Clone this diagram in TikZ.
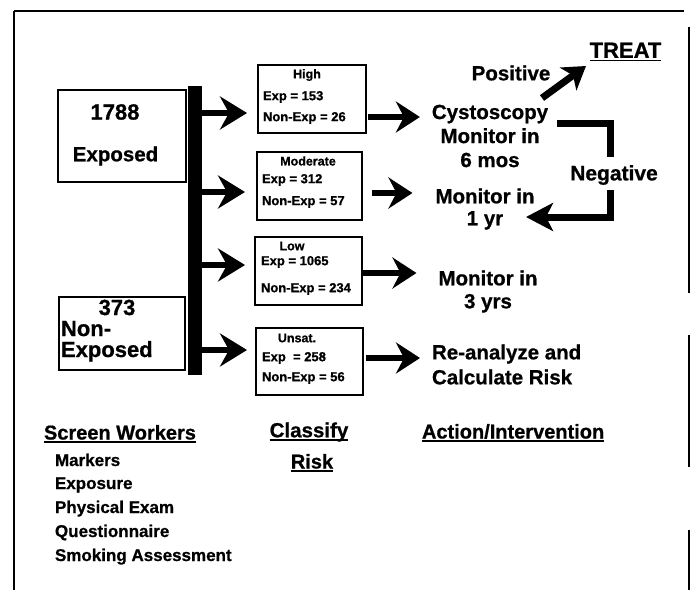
\documentclass[tikz,border=0pt]{standalone}
\usepackage{fontspec}
\setmainfont{Liberation Sans}[BoldFeatures={FakeBold=0.8}]
\usetikzlibrary{arrows.meta}
\newcommand\myul[1]{\setbox0=\hbox{#1}\rlap{\rule[-3.5pt]{\wd0}{1.8pt}}\box0}
\newcommand\fs[2]{\fontsize{#1}{#2}\selectfont}
\begin{document}
\begin{tikzpicture}[x=1pt,y=-1pt,
  every node/.style={inner sep=0pt, outer sep=0pt, font=\bfseries},
  bigbox/.style={draw, line width=2.2pt},
  riskbox/.style={draw, line width=2.2pt, minimum width=106pt, minimum height=67pt},
  hdr/.style={font=\bfseries\fs{12.5}{15}},
  cnt/.style={font=\bfseries\fs{13}{15}, anchor=west},
  big/.style={font=\bfseries\fs{20.5}{24}, align=center},
  item/.style={font=\bfseries\fs{17}{20}, anchor=base west},
  fat/.style={line width=6pt, -{Stealth[length=27pt,width=33pt,inset=9pt]}},
  fatr/.style={line width=6pt, -{Stealth[length=24pt,width=31pt,inset=8pt]}},
  frame/.style={line width=1.6pt}
]
\useasboundingbox (0,0) rectangle (690,590);
% frame
\draw[frame] (14,11) -- (684,11);
\draw[frame] (14,11) -- (14,590);
\draw[line width=1.1pt] (689,27) -- (689,293);
\draw[line width=1.1pt] (689,335) -- (689,467);
\draw[line width=1.1pt] (689,530) -- (689,590);

% left boxes
\node[bigbox, minimum width=128pt, minimum height=92pt] (exp) at (122,136) {};
\node[font=\bfseries\fs{22}{26}] (n1788) at (115,112) {1788};
\node[font=\bfseries\fs{20.5}{24}] (nexp) at (115.5,156) {Exposed};
\node[bigbox, minimum width=126pt, minimum height=73pt] (nonexp) at (122,333.5) {};
\node[font=\bfseries\fs{22}{26}, anchor=base] (n373) at (117,315) {373};
\node[font=\bfseries\fs{22}{26}, anchor=base west] (nnon) at (61,336) {Non-};
\node[font=\bfseries\fs{22}{26}, anchor=base west] (nnonexp) at (61,357) {Exposed};

% bar
\node[fill=black, minimum width=14pt, minimum height=289pt] (bar) at (195,230.5) {};

% risk boxes
\node[riskbox, minimum width=108pt, minimum height=68pt] (high) at (312,99) {};
\node[hdr] (hhigh) at (307,75) {High};
\node[cnt] (hexp) at (263,97) {Exp = 153};
\node[cnt] (hnon) at (263,118) {Non-Exp = 26};

\node[riskbox, minimum width=105pt, minimum height=68pt] (mod) at (309.5,186) {};
\node[hdr] (hmod) at (308,161) {Moderate};
\node[cnt] (mexp) at (262,180) {Exp = 312};
\node[cnt] (mnon) at (262,202) {Non-Exp = 57};

\node[riskbox, minimum width=107pt, minimum height=68pt] (low) at (308.5,271) {};
\node[hdr] (hlow) at (292,246) {Low};
\node[cnt] (lexp) at (261,262) {Exp = 1065};
\node[cnt] (lnon) at (261,289) {Non-Exp = 234};

\node[riskbox, minimum width=107pt, minimum height=67pt] (uns) at (309.5,361.5) {};
\node[hdr] (huns) at (297,338) {Unsat.};
\node[cnt] (uexp) at (262,358) {Exp\ \ = 258};
\node[cnt] (unon) at (262,378) {Non-Exp = 56};

% arrows from bar
\draw[fat, shorten >=11pt] (bar.east |- 0,113) -- (high.west |- 0,113);
\draw[fat, shorten >=12pt] (bar.east |- 0,192) -- (mod.west |- 0,192);
\draw[fat, shorten >=10pt] (bar.east |- 0,265) -- (low.west |- 0,265);
\draw[fat, shorten >=9pt] (bar.east |- 0,350) -- (uns.west |- 0,350);

% action texts
\node[big] (cysto) at (490,136) {Cystoscopy\\Monitor in\\6 mos};
\node[big, font=\bfseries\fs{20.5}{22}] (mon1) at (485,209) {Monitor in\\1 yr};
\node[big, font=\bfseries\fs{20.5}{23}] (mon3) at (488,291.5) {Monitor in\\3 yrs};
\node[big, font=\bfseries\fs{20.5}{25}, align=left, anchor=west] (rean) at (432,364.5) {Re-analyze and\\Calculate Risk};
\node[font=\bfseries\fs{22}{26}] (treat) at (625.5,52) {\myul{TREAT}};
\node[font=\bfseries\fs{20.5}{24}] (pos) at (511,73) {Positive};
\node[font=\bfseries\fs{21}{24}] (neg) at (614,175) {Negative};

% arrows to actions
\draw[fatr, shorten <=2pt, shorten >=12pt] (high.east |- 0,117) -- (cysto.west |- 0,117);
\draw[fatr, shorten <=10pt, shorten >=23pt] (mod.east |- 0,193) -- (mon1.west |- 0,193);
\draw[fatr, shorten <=1pt, shorten >=22pt] (low.east |- 0,273) -- (mon3.west |- 0,273);
\draw[fatr, shorten <=3pt, shorten >=12pt] (uns.east |- 0,358) -- (rean.west |- 0,358);

% positive arrow
\coordinate (posS) at (542,98);
\coordinate (posE) at (586,66);
\draw[line width=7pt, -{Stealth[length=22pt,width=28pt,inset=6pt]}] (posS) -- (posE);

% negative bracket
\coordinate (negS) at (557,123);
\coordinate (negA) at (610,157);
\coordinate (negB) at (610,190);
\coordinate (negE) at (526,217);
\draw[line width=7pt] (negS) -| (negA);
\draw[line width=7pt, -{Stealth[length=27pt,width=28pt,inset=7pt]}] (negB) |- (negE);

% bottom labels
\node[font=\bfseries\fs{20}{24}, anchor=west] (screen) at (44,434) {\myul{Screen Workers}};
\node[item] (i1) at (55,466) {Markers};
\node[item] (i2) at (55,489) {Exposure};
\node[item] (i3) at (55,513) {Physical Exam};
\node[item] (i4) at (55,537) {Questionnaire};
\node[item] (i5) at (55,561) {Smoking Assessment};
\node[font=\bfseries\fs{20.5}{24}] (classify) at (309,432) {\myul{Classify}};
\node[font=\bfseries\fs{20}{24}] (risk) at (312,463) {\myul{Risk}};
\node[font=\bfseries\fs{20}{24}, anchor=west] (action) at (422,433) {\myul{Action/Intervention}};
\end{tikzpicture}
\end{document}
